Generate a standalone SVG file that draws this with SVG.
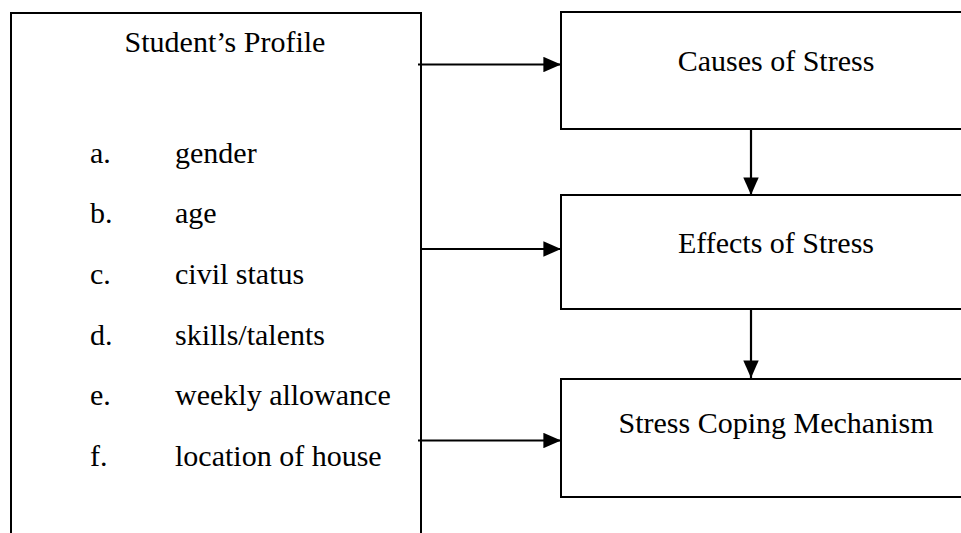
<svg xmlns="http://www.w3.org/2000/svg" width="961" height="533" viewBox="0 0 961 533">
<style>
.box{fill:#fff;stroke:#000;stroke-width:2}
.t{font-family:"Liberation Serif","Times New Roman",serif;font-size:30px;fill:#000}
.c{text-anchor:middle}
.conn{stroke:#000;stroke-width:2.2;fill:none}
</style>
<defs>
<marker id="ah" markerWidth="8" markerHeight="7" refX="8" refY="3.5" orient="auto" markerUnits="strokeWidth">
<polygon points="0,0 8,3.5 0,7" fill="#000"/>
</marker>
</defs>
<rect width="961" height="533" fill="#fff"/>
<g id="profile">
<rect class="box" x="11" y="13" width="410" height="560"/>
<text class="t c" x="225" y="52">Student’s Profile</text>
<text class="t" x="90" y="163">a.</text><text class="t" x="175" y="163">gender</text>
<text class="t" x="90" y="223">b.</text><text class="t" x="175" y="223">age</text>
<text class="t" x="90" y="284">c.</text><text class="t" x="175" y="284">civil status</text>
<text class="t" x="90" y="345">d.</text><text class="t" x="175" y="345">skills/talents</text>
<text class="t" x="90" y="405">e.</text><text class="t" x="175" y="405">weekly allowance</text>
<text class="t" x="90" y="466">f.</text><text class="t" x="175" y="466">location of house</text>
</g>
<g id="causes">
<rect class="box" x="561" y="12" width="450" height="117"/>
<text class="t c" x="776" y="71">Causes of Stress</text>
</g>
<g id="effects">
<rect class="box" x="561" y="195" width="450" height="114"/>
<text class="t c" x="776" y="253">Effects of Stress</text>
</g>
<g id="coping">
<rect class="box" x="561" y="379" width="450" height="118"/>
<text class="t c" x="776" y="433">Stress Coping Mechanism</text>
</g>
<g id="connectors">
<line class="conn" x1="418" y1="64.5" x2="561" y2="64.5" marker-end="url(#ah)"/>
<line class="conn" x1="420" y1="249" x2="561" y2="249" marker-end="url(#ah)"/>
<line class="conn" x1="418" y1="440.5" x2="561" y2="440.5" marker-end="url(#ah)"/>
<line class="conn" x1="751" y1="129" x2="751" y2="195" marker-end="url(#ah)"/>
<line class="conn" x1="751" y1="309" x2="751" y2="378" marker-end="url(#ah)"/>
</g>
</svg>
